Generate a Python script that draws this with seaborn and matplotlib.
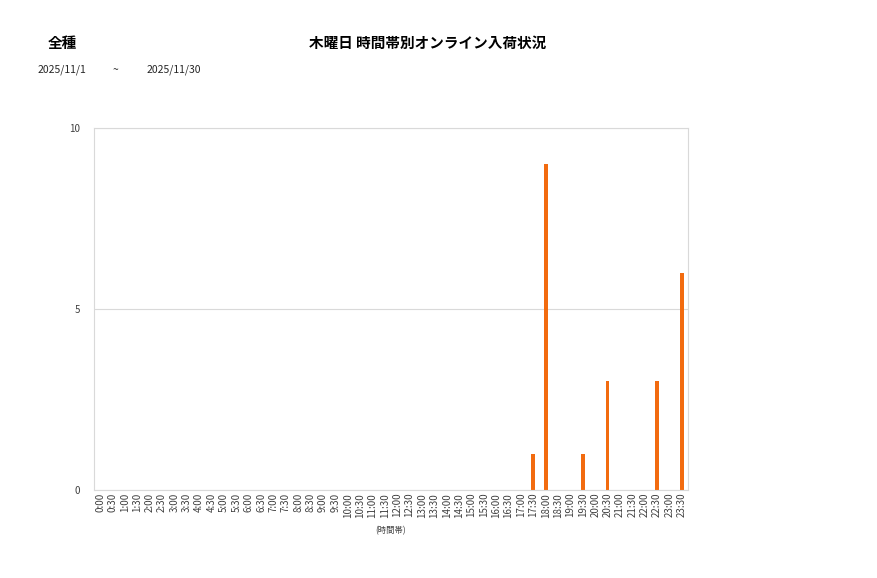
import numpy as np
import pandas as pd
import matplotlib
matplotlib.use("Agg")
import matplotlib.pyplot as plt
import seaborn as sns

sns.set_style("white")
plt.rcParams['font.family'] = ['Noto Sans CJK JP', 'DejaVu Sans']

# 48 half-hour slots
time_slots = [f"{h}:{m:02d}" for h in range(24) for m in (0, 30)]
arrival_slots = ["17:30", "18:00", "19:30", "20:30", "22:30", "23:30"]
arrival_counts = [1, 9, 1, 3, 3, 6]

counts = dict(zip(arrival_slots, arrival_counts))
df = pd.DataFrame({
    "slot": time_slots,
    "count": [counts.get(s, 0) for s in time_slots],
})

fig = plt.figure(figsize=(8.77, 5.78), dpi=100)
ax = fig.add_axes([94 / 877, 1 - 490 / 578, (688 - 94) / 877, (490 - 128) / 578])

sns.barplot(data=df, x="slot", y="count", color="#F26B0F", width=0.3,
            saturation=1, linewidth=0, ax=ax)

ax.set_ylim(0, 10)
ax.set_yticks([0, 5, 10])
ax.set_xlim(-0.5, len(time_slots) - 0.5)
ax.yaxis.grid(True, color="#d9d9d9", linewidth=0.8)
ax.set_axisbelow(True)
for side in ["left", "top", "right", "bottom"]:
    ax.spines[side].set_color("#d9d9d9")
    ax.spines[side].set_linewidth(0.8)

ax.tick_params(axis='x', labelrotation=90, labelsize=7, length=0, pad=2, colors="#404040")
ax.tick_params(axis='y', labelsize=7, length=0, pad=10, colors="#404040")
ax.set_xlabel("(時間帯)", fontsize=6, color="#404040", labelpad=6)
ax.set_ylabel("")

fig.text(428 / 877, 1 - 43 / 578, "木曜日 時間帯別オンライン入荷状況", ha="center", va="center",
         fontsize=10.5, fontweight="bold", color="black")
fig.text(62 / 877, 1 - 43 / 578, "全種", ha="center", va="center",
         fontsize=10.5, fontweight="bold", color="black")
fig.text(38 / 877, 1 - 70 / 578, "2025/11/1", ha="left", va="center", fontsize=7.5)
fig.text(115 / 877, 1 - 70 / 578, "~", ha="center", va="center", fontsize=7.5)
fig.text(147 / 877, 1 - 70 / 578, "2025/11/30", ha="left", va="center", fontsize=7.5)

fig.savefig("out.png", dpi=100, facecolor="white")
